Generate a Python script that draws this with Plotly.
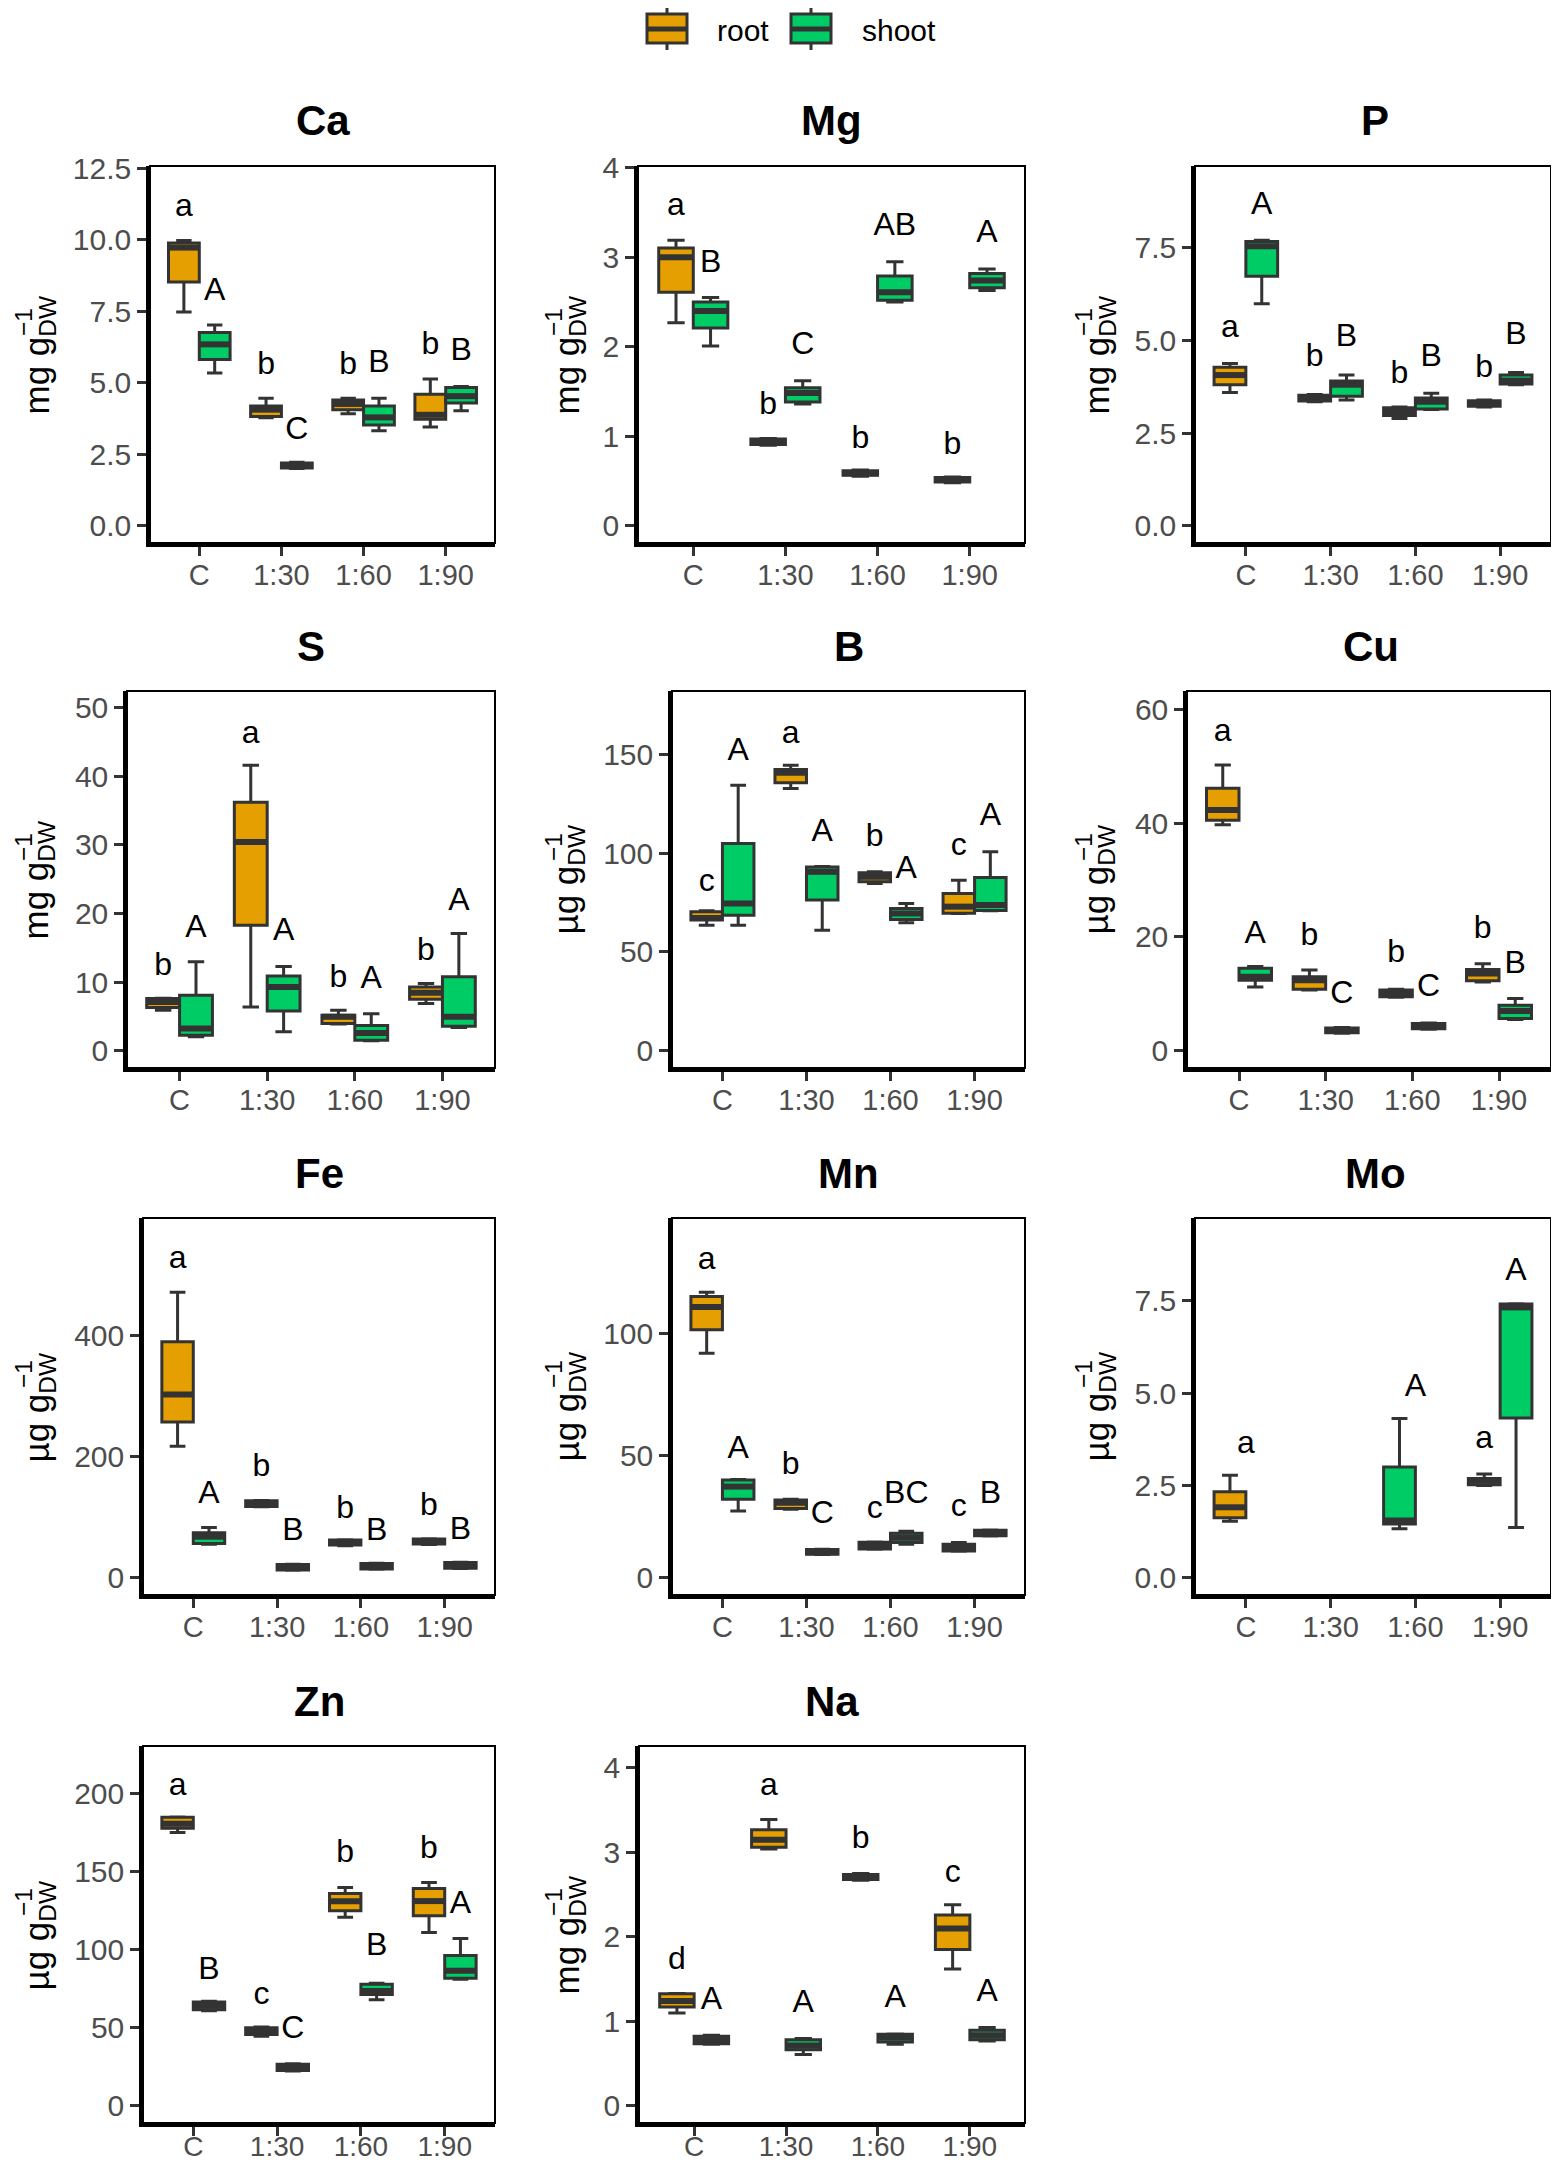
import plotly.graph_objects as go

# the page puts the figure 8 px in from the top-left corner of the window
PAGE_W, PAGE_H = 1559, 2171
OFF = 8
W, H = PAGE_W - 2 * OFF, PAGE_H - 2 * OFF

CATEGORIES = ["C", "1:30", "1:60", "1:90"]
ELEMENTS = ["Ca", "Mg", "P", "S", "B", "Cu", "Fe", "Mn", "Mo", "Zn", "Na"]
GROUPS = ["root", "shoot"]

MG_UNIT = "mg g<sub>DW</sub>"
UG_UNIT = "µg g<sub>DW</sub>"
units = {"Ca": MG_UNIT, "Mg": MG_UNIT, "P": MG_UNIT, "S": MG_UNIT, "B": UG_UNIT,
         "Cu": UG_UNIT, "Fe": UG_UNIT, "Mn": UG_UNIT, "Mo": UG_UNIT, "Zn": UG_UNIT,
         "Na": MG_UNIT}
UNIT_EXP = "−1"

# box stats per treatment: (lower whisker, q1, median, q3, upper whisker)
ca_root = [(7.47, 8.52, 9.72, 9.88, 9.97), (3.78, 3.82, 4.06, 4.19, 4.46),
           (3.92, 4.06, 4.26, 4.40, 4.46), (3.45, 3.72, 3.88, 4.60, 5.13)]
ca_shoot = [(5.34, 5.81, 6.34, 6.75, 7.02), (2.00, 2.02, 2.10, 2.20, 2.22),
            (3.32, 3.52, 3.79, 4.19, 4.46), (4.02, 4.29, 4.53, 4.83, 4.87)]
mg_root = [(2.27, 2.61, 3.00, 3.105, 3.19), (0.90, 0.91, 0.942, 0.97, 0.976),
           (0.555, 0.565, 0.589, 0.615, 0.624), (0.482, 0.49, 0.516, 0.54, 0.546)]
mg_shoot = [(2.01, 2.21, 2.40, 2.50, 2.55), (1.36, 1.385, 1.484, 1.544, 1.62),
            (2.50, 2.52, 2.61, 2.79, 2.95), (2.63, 2.66, 2.74, 2.82, 2.87)]
p_root = [(3.59, 3.80, 4.06, 4.27, 4.37), (3.34, 3.36, 3.44, 3.52, 3.54),
          (2.89, 2.97, 3.08, 3.18, 3.20), (3.20, 3.22, 3.30, 3.37, 3.39)]
p_shoot = [(5.98, 6.72, 7.53, 7.66, 7.69), (3.39, 3.49, 3.80, 3.90, 4.06),
           (3.13, 3.15, 3.34, 3.44, 3.57), (3.80, 3.82, 3.91, 4.06, 4.13)]
s_root = [(5.9, 6.31, 7.1, 7.62, 7.65), (6.4, 18.3, 30.4, 36.2, 41.6),
          (3.9, 4.0, 4.95, 5.2, 5.9), (6.9, 7.5, 8.45, 9.3, 9.8)]
s_shoot = [(2.04, 2.28, 3.25, 8.1, 12.96), (2.77, 5.8, 9.3, 10.9, 12.3),
           (1.46, 1.55, 2.6, 3.7, 5.4), (3.4, 3.6, 4.95, 10.8, 17.1)]
b_root = [(63.5, 66.1, 67.2, 70.3, 70.8), (132.6, 135.5, 140.6, 142.2, 144.4),
          (84.6, 85.5, 88.0, 90.0, 90.5), (69.4, 69.6, 72.9, 79.6, 86.3)]
b_shoot = [(63.5, 68.6, 74.5, 104.8, 134.3), (61.0, 76.2, 90.5, 93.0, 93.2),
           (64.7, 66.4, 69.4, 72.0, 74.5), (70.8, 71.0, 73.7, 87.6, 100.6)]
cu_root = [(39.7, 40.5, 42.3, 46.1, 50.2), (10.7, 10.8, 12.4, 13.0, 14.2),
           (9.4, 9.5, 10.1, 10.7, 10.8), (12.1, 12.3, 13.6, 14.3, 15.3)]
cu_shoot = [(11.2, 12.4, 13.0, 14.5, 14.8), (3.1, 3.2, 3.6, 4.0, 4.1),
            (3.8, 3.9, 4.4, 4.8, 4.9), (5.5, 5.7, 7.0, 8.0, 9.2)]
fe_root = [(216.8, 257, 302, 389, 470.6), (117, 117.5, 123, 126.9, 127.5),
           (53, 54, 58.5, 62.3, 63), (55, 56, 59.6, 64, 64.5)]
fe_shoot = [(55.2, 56.8, 67.9, 74.5, 82.8), (12.7, 13, 17.7, 22, 22.5),
            (14.3, 14.6, 18.8, 23.7, 24), (15.4, 15.7, 19.9, 25.4, 25.8)]
mn_root = [(91.8, 101.4, 110.7, 115, 116.8), (28.0, 28.4, 30.7, 31.8, 32.1),
           (11.7, 11.8, 13.4, 14.6, 14.7), (10.9, 11.0, 12.3, 13.7, 14.5)]
mn_shoot = [(27.3, 32.1, 37.3, 40, 40.2), (9.6, 9.7, 10.5, 11.6, 11.7),
            (13.7, 14.5, 16.4, 18.2, 19.1), (17.1, 17.2, 18.2, 19.5, 19.6)]
mo_root = [(1.53, 1.63, 1.91, 2.33, 2.78), None, None, (2.50, 2.52, 2.63, 2.69, 2.81)]
mo_shoot = [None, None, (1.33, 1.46, 1.55, 3.0, 4.31), (1.36, 4.33, 7.32, 7.41, 7.42)]
zn_root = [(175, 177.8, 180.7, 184.8, 185), (44.6, 45.7, 48, 50, 50.5),
           (120.7, 125, 131, 135.9, 139.8), (111, 121.7, 131.1, 139.1, 143)]
zn_shoot = [(60.9, 61.5, 64.1, 66.5, 67), (22.4, 22.6, 24.6, 26.7, 27),
            (68, 71.3, 73.5, 77.8, 78.5), (81.1, 81.7, 86.5, 96.3, 107.2)]
na_root = [(1.10, 1.17, 1.24, 1.327, 1.33), (3.04, 3.06, 3.15, 3.27, 3.39),
           (2.67, 2.68, 2.70, 2.74, 2.75), (1.62, 1.85, 2.10, 2.26, 2.38)]
na_shoot = [(0.73, 0.736, 0.776, 0.824, 0.836), (0.607, 0.663, 0.716, 0.784, 0.796),
            (0.728, 0.756, 0.808, 0.848, 0.85), (0.768, 0.784, 0.836, 0.896, 0.929)]

# significance letters and the height they are written at
ca_letters = (["a", "b", "b", "b"], [11.1, 5.6, 5.6, 6.28], ["A", "C", "B", "B"], [8.16, 3.3, 5.67, 6.08])
mg_letters = (["a", "b", "b", "b"], [3.56, 1.34, 0.955, 0.89], ["B", "C", "AB", "A"], [2.93, 2.01, 3.34, 3.26])
p_letters = (["a", "b", "b", "b"], [5.3, 4.53, 4.06, 4.22], ["A", "B", "B", "B"], [8.62, 5.05, 4.53, 5.1])
s_letters = (["b", "a", "b", "b"], [12.2, 46, 10.5, 14.4], ["A", "A", "A", "A"], [17.8, 17.3, 10.3, 21.7])
b_letters = (["c", "a", "b", "c"], [84.6, 159.6, 107.4, 103.1], ["A", "A", "A", "A"], [151.2, 109.9, 91.4, 118.3])
cu_letters = (["a", "b", "b", "b"], [55.8, 20.0, 17.1, 21.2], ["A", "C", "C", "B"], [20.3, 9.8, 11.0, 15.1])
fe_letters = (["a", "b", "b", "b"], [523, 181, 112, 117.5], ["A", "B", "B", "B"], [136.8, 76, 76, 77])
mn_letters = (["a", "b", "c", "c"], [129.5, 45.8, 27.7, 28.4], ["A", "C", "BC", "B"], [52.3, 25.7, 33.9, 33.9])
mo_letters = (["a", None, None, "a"], [3.59, None, None, 3.72], [None, None, "A", "A"], [None, None, 5.15, 8.28])
zn_letters = (["a", "c", "b", "b"], [203.9, 70.2, 161.1, 164.1], ["B", "C", "B", "A"], [86.5, 48.5, 101.7, 128.9])
na_letters = (["d", "a", "b", "c"], [1.72, 3.77, 3.15, 2.75], ["A", "A", "A", "A"], [1.24, 1.2, 1.26, 1.34])

data = {"Ca": (ca_root, ca_shoot, ca_letters), "Mg": (mg_root, mg_shoot, mg_letters),
        "P": (p_root, p_shoot, p_letters), "S": (s_root, s_shoot, s_letters),
        "B": (b_root, b_shoot, b_letters), "Cu": (cu_root, cu_shoot, cu_letters),
        "Fe": (fe_root, fe_shoot, fe_letters), "Mn": (mn_root, mn_shoot, mn_letters),
        "Mo": (mo_root, mo_shoot, mo_letters), "Zn": (zn_root, zn_shoot, zn_letters),
        "Na": (na_root, na_shoot, na_letters)}

# axis settings: (upper limit, tick step, tick format)
axis_cfg = {"Ca": (12.57, 2.5, ".1f"), "Mg": (4.02, 1, "d"), "P": (9.69, 2.5, ".1f"),
            "S": (52.4, 10, "d"), "B": (181.9, 50, "d"), "Cu": (63.2, 20, "d"),
            "Fe": (593, 200, "d"), "Mn": (147.1, 50, "d"), "Mo": (9.74, 2.5, ".1f"),
            "Zn": (230.4, 50, "d"), "Na": (4.26, 1, "d")}

# panel placement in window pixels: (left, right, top)
panel_px = {"Ca": (150, 495, 166), "Mg": (638, 1025, 166), "P": (1195, 1555, 166),
            "S": (127, 495, 691), "B": (672, 1025, 691), "Cu": (1187, 1555, 691),
            "Fe": (143, 495, 1218), "Mn": (672, 1025, 1218), "Mo": (1195, 1555, 1218),
            "Zn": (143, 495, 1746), "Na": (639, 1025, 1746)}
PANEL_H = 377
YTITLE_X = [38, 568, 1098]
YTITLE_SIZE = 35

ORANGE = "#E69F00"
GREEN = "#00CC66"
EDGE = "#333333"
FONT = "Arial, Liberation Sans, sans-serif"
DODGE = 0.1875
BOX_W = 0.375


def fx(px):
    return min(max((px - OFF) / W, 0), 1)


def fy(py):
    return min(max(1 - (py - OFF) / H, 0), 1)


fig = go.Figure()
annotations = []
shapes = []
tick_font = dict(size=30, color="#4D4D4D", family=FONT)

for i, el in enumerate(ELEMENTS):
    n = "" if i == 0 else str(i + 1)
    xa, ya = "x" + n, "y" + n
    left, right, top = panel_px[el]
    bottom = top + PANEL_H
    ymax, step, fmt = axis_cfg[el]
    root, shoot, letters = data[el]
    last_row = i >= 9

    fig.update_layout({
        "xaxis" + n: dict(domain=[fx(left), fx(right)], anchor=ya, range=[0.4, 4.6],
                          tickvals=[1, 2, 3, 4], ticktext=CATEGORIES, showgrid=False,
                          zeroline=False, showline=True, linecolor="black", linewidth=3.5,
                          ticks="outside", ticklen=9, tickwidth=2.5, tickcolor=EDGE,
                          ticklabelstandoff=-13 if last_row else -6,
                          tickfont=dict(size=28 if last_row else 29, color="#4D4D4D", family=FONT),
                          automargin=False),
        "yaxis" + n: dict(domain=[fy(bottom), fy(top)], anchor=xa,
                          range=[-ymax / 21, ymax], dtick=step, tick0=0, tickformat=fmt,
                          showgrid=False, zeroline=False, showline=True, linecolor="black",
                          linewidth=3.5, ticks="outside", ticklen=9, tickwidth=2.5,
                          tickcolor=EDGE, tickfont=tick_font, automargin=False),
    })

    for part, stats, other, color in (("root", root, shoot, ORANGE), ("shoot", shoot, root, GREEN)):
        xs, lo, q1, med, q3, hi = [], [], [], [], [], []
        for j, s in enumerate(stats):
            if s is None:
                continue
            # a lone box keeps the first dodge slot
            off = -DODGE if (part == "root" or other[j] is None) else DODGE
            xs.append(j + 1 + off)
            lo.append(s[0]); q1.append(s[1]); med.append(s[2]); q3.append(s[3]); hi.append(s[4])
        fig.add_trace(go.Box(x=xs, lowerfence=lo, q1=q1, median=med, q3=q3, upperfence=hi,
                             width=BOX_W, fillcolor=color, line=dict(color=EDGE, width=3),
                             name=part, showlegend=False, xaxis=xa, yaxis=ya, hoverinfo="skip"))
        mx, my = [], []
        for x, m in zip(xs, med):
            mx += [x - BOX_W / 2, x + BOX_W / 2, None]
            my += [m, m, None]
        fig.add_trace(go.Scatter(x=mx, y=my, mode="lines", line=dict(color=EDGE, width=6),
                                 showlegend=False, xaxis=xa, yaxis=ya, hoverinfo="skip"))

    r_lab, r_y, s_lab, s_y = letters
    tx, ty, tt = [], [], []
    for j in range(len(CATEGORIES)):
        both = r_lab[j] is not None and s_lab[j] is not None
        if r_lab[j] is not None:
            tx.append(j + 1 - (DODGE if both else 0)); ty.append(r_y[j]); tt.append(r_lab[j])
        if s_lab[j] is not None:
            tx.append(j + 1 + (DODGE if both else 0)); ty.append(s_y[j]); tt.append(s_lab[j])
    fig.add_trace(go.Scatter(x=tx, y=ty, text=tt, mode="text", textposition="middle center",
                             textfont=dict(size=32, color="black", family=FONT),
                             showlegend=False, xaxis=xa, yaxis=ya, hoverinfo="skip"))

    # panel border
    shapes.append(dict(type="rect", xref=xa + " domain", yref=ya + " domain", x0=0, x1=1,
                       y0=0, y1=1, line=dict(color="black", width=2)))
    # title
    annotations.append(dict(text="<b>" + el + "</b>", xref="paper", yref="paper",
                            x=fx((left + right) / 2), y=fy(top - 45), showarrow=False,
                            xanchor="center", yanchor="middle",
                            font=dict(size=42, color="black", family=FONT)))
    # y axis title, with the exponent stacked over the DW subscript
    yc = top + PANEL_H / 2
    xc = YTITLE_X[i % 3]
    annotations.append(dict(text=units[el], xref="paper", yref="paper",
                            x=fx(xc), y=fy(yc), textangle=-90, showarrow=False,
                            xanchor="center", yanchor="middle",
                            font=dict(size=YTITLE_SIZE, color="black", family=FONT)))
    annotations.append(dict(text=UNIT_EXP, xref="paper", yref="paper",
                            x=fx(xc - 0.4 * YTITLE_SIZE), y=fy(yc - 0.93 * YTITLE_SIZE),
                            textangle=-90, showarrow=False, xanchor="center", yanchor="middle",
                            font=dict(size=0.7 * YTITLE_SIZE, color="black", family=FONT)))

# legend drawn as boxplot keys: (key left, text left) in window pixels
legend_px = {"root": (647, 715), "shoot": (791, 860)}
for part, color in zip(GROUPS, [ORANGE, GREEN]):
    kx, tx0 = legend_px[part]
    cx = kx + 20
    shapes.append(dict(type="line", xref="paper", yref="paper", x0=fx(cx), x1=fx(cx),
                       y0=fy(7), y1=fy(50), line=dict(color=EDGE, width=3)))
    shapes.append(dict(type="rect", xref="paper", yref="paper", x0=fx(kx), x1=fx(kx + 40),
                       y0=fy(14), y1=fy(43), fillcolor=color, line=dict(color=EDGE, width=3)))
    shapes.append(dict(type="line", xref="paper", yref="paper", x0=fx(kx), x1=fx(kx + 40),
                       y0=fy(29), y1=fy(29), line=dict(color=EDGE, width=5)))
    annotations.append(dict(text=part, xref="paper", yref="paper", x=fx(tx0), y=fy(30),
                            xanchor="left", yanchor="middle", showarrow=False,
                            font=dict(size=30, color="black", family=FONT)))

fig.update_layout(
    width=W, height=H,
    margin=dict(l=0, r=0, t=0, b=0, autoexpand=False),
    paper_bgcolor="white", plot_bgcolor="white",
    boxmode="overlay",
    showlegend=False,
    font=dict(family=FONT, color="black"),
    annotations=annotations,
    shapes=shapes,
)

fig.write_html("out.html")
